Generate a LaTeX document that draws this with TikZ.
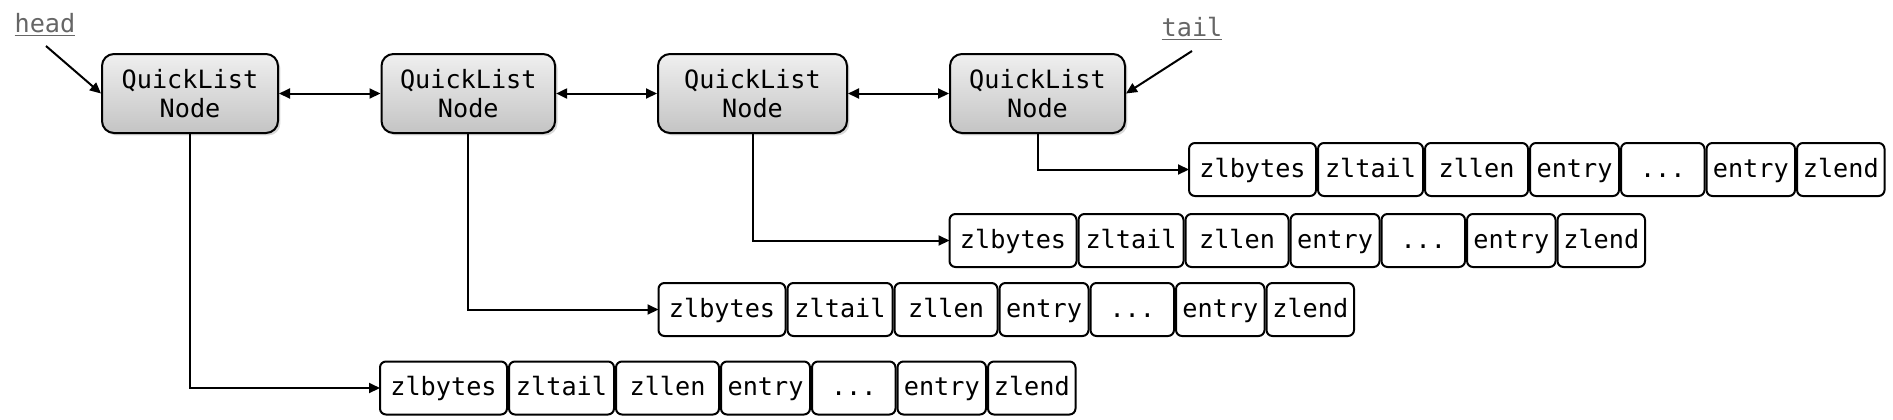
\documentclass[tikz,border=0pt]{standalone}
\usepackage{fontspec}
\setmonofont{DejaVu Sans Mono}
\usetikzlibrary{positioning,arrows.meta,shadows}
\definecolor{qTop}{HTML}{EFEFEF}
\definecolor{qBot}{HTML}{C4C4C4}
\definecolor{qPtr}{HTML}{666666}
\tikzset{
  qnode/.style={draw, line width=1pt, rounded corners=6pt, align=center,
                font=\ttfamily\fontsize{12.6}{14.5}\selectfont,
                minimum height=39.5pt, inner sep=2pt,
                top color=qTop, bottom color=qBot,
                drop shadow={shadow xshift=1.2pt, shadow yshift=-1.2pt,
                             opacity=0.3}},
  cell/.style={draw, line width=1pt, rounded corners=3pt, fill=white,
               font=\ttfamily\fontsize{12.6}{14.5}\selectfont,
               text height=10.2pt, text depth=2.4pt,
               minimum height=26.5pt, inner sep=1pt, outer sep=0pt},
  link/.style={{Triangle[length=5.5pt,width=5pt]}-{Triangle[length=5.5pt,width=5pt]},
               line width=1pt},
  flow/.style={-{Triangle[length=5.5pt,width=5pt]}, line width=1pt},
  ptr/.style={font=\ttfamily\fontsize{12.6}{14.5}\selectfont, text=qPtr,
              inner sep=1pt},
}
\newcommand{\zdots}{.\kern0pt.\kern0pt.}
% one ziplist row: #1 name, #2 point just left of its first cell
\newcommand{\ziplist}[2]{
  \coordinate (#1-0) at #2;
  \foreach \lbl/\w [count=\i] in {zlbytes/63.5pt, zltail/52.5pt, zllen/51.5pt,
      entry/44.5pt, \zdots/41.75pt, entry/44.25pt, zlend/43.75pt}{
    \pgfmathtruncatemacro{\j}{\i-1}
    \node[cell, minimum width=\w, right=1pt of #1-\j] (#1-\i) {\lbl};
  }
}

\begin{document}
\begin{tikzpicture}[x=0.5pt, y=-0.5pt]
\useasboundingbox (0,0) rectangle (1893,419);

%% ── the quicklist nodes ───────────────────────────────────────────────────
\node[qnode, minimum width=88pt]   (qn1) at (190,93.5)    {QuickList\\Node};
\node[qnode, minimum width=86.8pt] (qn2) at (468.3,93.5)  {QuickList\\Node};
\node[qnode, minimum width=94.5pt] (qn3) at (752.5,93.5)  {QuickList\\Node};
\node[qnode, minimum width=87.5pt] (qn4) at (1037.5,93.5) {QuickList\\Node};

\draw[link] (qn1.east) -- (qn2.west);
\draw[link] (qn2.east) -- (qn3.west);
\draw[link] (qn3.east) -- (qn4.west);

%% ── head / tail pointers ──────────────────────────────────────────────────
\node[ptr] (hd) at (45,25)   {\underline{head}};
\node[ptr] (tl) at (1192,29) {\underline{tail}};
\coordinate (hdfrom) at (46,46);
\coordinate (tlfrom) at (1192,51);
\draw[flow] (hdfrom) -- (qn1.west);
\draw[flow] (tlfrom) -- (qn4.east);

%% ── the ziplists ──────────────────────────────────────────────────────────
\ziplist{zl1}{(378,388)}
\ziplist{zl2}{(656.5,309.5)}
\ziplist{zl3}{(947.5,240.5)}
\ziplist{zl4}{(1187,169.5)}

\draw[flow] (qn1.south) |- (zl1-1.west);
\draw[flow] (qn2.south) |- (zl2-1.west);
\draw[flow] (qn3.south) |- (zl3-1.west);
\draw[flow] (qn4.south) |- (zl4-1.west);

\end{tikzpicture}
\end{document}
